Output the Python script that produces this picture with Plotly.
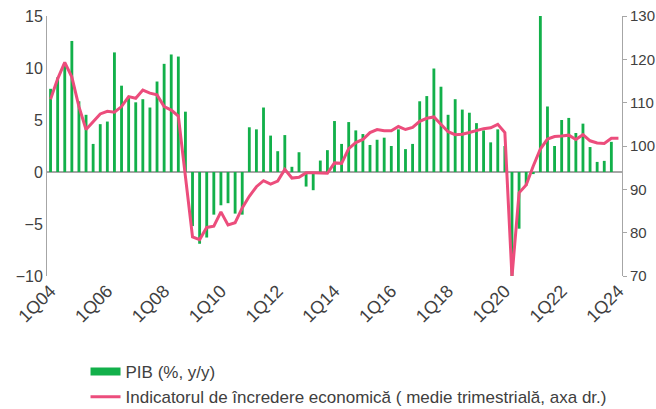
import plotly.graph_objects as go

# Quarter categories 1Q04 .. 1Q24
years = list(range(2004, 2025))
categories = [f"{q}Q{str(y)[2:]}" for y in years for q in (1, 2, 3, 4)][:81]

tick_labels = ["1Q04", "1Q06", "1Q08", "1Q10", "1Q12", "1Q14",
               "1Q16", "1Q18", "1Q20", "1Q22", "1Q24"]

# PIB (%, y/y) -- left axis
pib = [8.0, 9.1, 10.3, 12.6, 6.8, 5.5, 2.7, 4.6,
       4.85, 11.5, 8.3, 7.2, 6.7, 7.0, 6.2, 8.7,
       10.4, 11.3, 11.1, 5.8, -5.2, -6.9, -6.3, -4.1,
       -3.2, -3.0, -4.0, -4.1, 4.3, 4.1, 6.2, 3.5,
       2.0, 3.55, 0.5, 1.9, -1.4, -1.75, 1.1, 2.1,
       4.9, 2.7, 4.8, 4.0, 3.65, 2.6, 3.1, 3.3,
       2.5, 4.1, 2.2, 2.7, 6.8, 7.3, 9.95, 8.2,
       5.5, 7.0, 6.0, 5.7, 4.7, 4.0, 2.85, 4.1,
       2.5, -10.2, -5.45, -1.3, -0.2, 15.1, 6.3, 2.5,
       5.0, 5.2, 3.75, 4.65, 2.4, 0.97, 1.07, 2.9,
       None]

# Indicatorul de incredere economica (medie trimestriala) -- right axis
esi = [110.8, 115.5, 119.3, 115.9, 109.1, 103.8, 105.6, 107.4,
       108.0, 107.8, 109.1, 111.4, 111.0, 112.9, 112.2, 111.8,
       109.1, 108.3, 106.9, 93.5, 79.0, 78.4, 81.2, 81.5,
       84.8, 81.8, 82.3, 85.7, 88.4, 90.6, 92.0, 91.2,
       91.9, 94.6, 92.6, 92.8, 93.8, 93.8, 93.7, 93.7,
       96.1, 96.0, 99.4, 100.8, 101.5, 103.1, 103.8, 103.5,
       103.5, 104.5, 103.8, 104.3, 105.7, 106.4, 106.7, 104.9,
       103.3, 102.6, 102.7, 103.1, 103.6, 104.0, 104.2, 105.0,
       103.1, 69.8, 89.2, 91.0, 95.4, 99.3, 101.6, 102.2,
       102.3, 102.5, 101.5, 102.6, 101.2, 100.7, 100.6, 101.8,
       101.8]

GREEN = "#12B04A"
PINK = "#EC4D7C"
AXIS = "#A6A6A6"
TEXT = "#404040"
FONT = "Liberation Sans, Arial, sans-serif"

fig = go.Figure()

fig.add_trace(go.Bar(
    x=categories, y=pib, name="PIB (%, y/y)",
    marker=dict(color=GREEN, line=dict(width=0)),
    width=0.4, showlegend=False, legendgroup="pib",
    yaxis="y",
))

# legend keys
fig.add_trace(go.Scatter(
    x=[None], y=[None], mode="lines", name="PIB (%, y/y)",
    line=dict(color=GREEN, width=8), legendgroup="pib", showlegend=True,
))

fig.add_trace(go.Scatter(
    x=categories, y=esi, mode="lines",
    name="Indicatorul de încredere economică ( medie trimestrială, axa dr.)",
    line=dict(color=PINK, width=3),
    yaxis="y2",
))

fig.update_layout(
    width=656, height=409, autosize=False,
    margin=dict(l=47, r=34, t=16, b=133, autoexpand=False),
    paper_bgcolor="white", plot_bgcolor="white",
    font=dict(family=FONT, size=16, color=TEXT),
    bargap=0.6,
    xaxis=dict(
        type="category",
        categoryorder="array", categoryarray=categories,
        range=[-0.5, 80.5],
        tickmode="array", tickvals=tick_labels, ticktext=tick_labels,
        tickangle=-45, showline=False, showgrid=False, zeroline=False,
        ticks="", tickfont=dict(size=18, color=TEXT),
        automargin=False,
    ),
    yaxis=dict(
        range=[-10, 15], dtick=5, tick0=-10,
        showline=True, linecolor=AXIS, linewidth=1,
        showgrid=False, zeroline=True, zerolinecolor=AXIS, zerolinewidth=1.5,
        ticks="", tickfont=dict(size=16, color=TEXT),
        automargin=False,
    ),
    yaxis2=dict(
        range=[70, 130], dtick=10, tick0=70,
        overlaying="y", side="right",
        showline=True, linecolor=AXIS, linewidth=1,
        ticks="outside", ticklen=4, tickcolor=AXIS,
        showgrid=False, zeroline=False,
        tickfont=dict(size=15, color=TEXT),
        automargin=False,
    ),
    legend=dict(
        x=0.067, y=-0.30, xanchor="left", yanchor="top",
        orientation="v", bgcolor="rgba(0,0,0,0)",
        font=dict(size=17, color=TEXT), tracegroupgap=0,
    ),
    showlegend=True,
)

fig.write_html(
    "out.html",
    config={"displayModeBar": False},
    post_script="document.body.style.margin='0';document.body.style.overflow='hidden';",
)
